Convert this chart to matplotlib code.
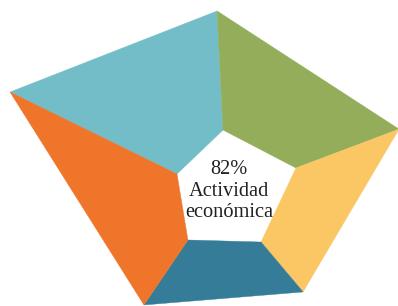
import numpy as np
import matplotlib
matplotlib.use("Agg")
import matplotlib.pyplot as plt
from matplotlib.patches import Polygon

# Segments of the pentagonal ring (clockwise from upper-left)
segments = ["Segmento 1", "Segmento 2", "Segmento 3", "Segmento 4", "Segmento 5"]
colors = ["#72BDC8", "#94AD5B", "#FBC664", "#357C98", "#EE7529"]

# Boundary vertices of the ring, in polar form around the centre
# (angle in degrees, radius in chart units); order: left, top, right, bottom-right, bottom-left
outer_angle = [155.9, 93.8, 19.7, -54.0, -126.5]
outer_radius = [239.9, 179.4, 180.6, 126.0, 143.0]
inner_angle = [162.9, 95.7, 18.2, -58.4, -129.4]
inner_radius = [54.4, 60.3, 70.5, 61.1, 64.7]
center = (229.0, 190.0)

center_text = "82%\nActividad\neconómica"

fig = plt.figure(figsize=(3.98, 3.06), dpi=100)
ax = fig.add_axes([0, 0, 1, 1])
ax.set_xlim(0, 398)
ax.set_ylim(306, 0)
ax.axis("off")

oa = np.radians(outer_angle)
ia = np.radians(inner_angle)
ox = center[0] + np.array(outer_radius) * np.cos(oa)
oy = center[1] - np.array(outer_radius) * np.sin(oa)
ix = center[0] + np.array(inner_radius) * np.cos(ia)
iy = center[1] - np.array(inner_radius) * np.sin(ia)

n = len(segments)
for k in range(n):
    j = (k + 1) % n
    pts = [(ox[k], oy[k]), (ox[j], oy[j]), (ix[j], iy[j]), (ix[k], iy[k])]
    ax.add_patch(Polygon(pts, closed=True, facecolor=colors[k],
                         edgecolor=colors[k], linewidth=0.3, label=segments[k]))

ax.text(center[0], center[1] + 1, center_text, ha="center", va="center",
        fontsize=14.7, family=["Liberation Serif", "DejaVu Serif"],
        color="#222222", linespacing=1.2)

fig.savefig("out.png", dpi=100)
